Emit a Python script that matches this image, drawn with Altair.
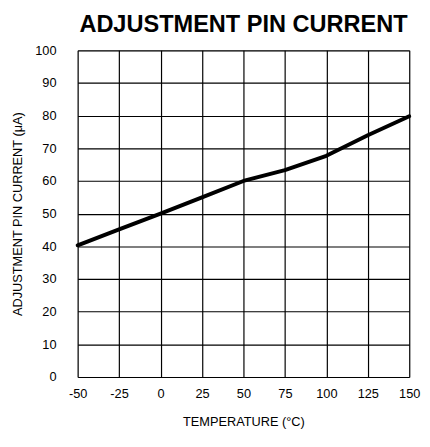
import altair as alt
import pandas as pd

temperature = [-50, -25, 0, 25, 50, 75, 100, 125, 150]
current_ua = [40.3, 45.2, 50.0, 55.0, 60.0, 63.3, 67.7, 74.0, 79.8]

x_ticks = [-50, -25, 0, 25, 50, 75, 100, 125, 150]
y_ticks = [0, 10, 20, 30, 40, 50, 60, 70, 80, 90, 100]

FONT = "Liberation Sans, Arial, sans-serif"

df = pd.DataFrame({"t": temperature, "i": current_ua})

common_axis = dict(
    ticks=False,
    domain=False,
    grid=True,
    gridColor="black",
    gridWidth=1.2,
    gridOpacity=1,
    labelFontSize=13,
    titleFontSize=13,
    titleFontWeight="normal",
    labelFont=FONT,
    titleFont=FONT,
    labelColor="black",
    titleColor="black",
    labelFlush=False,
    labelExpr="'' + datum.value",
)

chart = (
    alt.Chart(df)
    .mark_line(color="black", strokeWidth=4, strokeCap="round", strokeJoin="round")
    .encode(
        x=alt.X(
            "t:Q",
            scale=alt.Scale(domain=[-50, 150], nice=False, zero=False),
            axis=alt.Axis(
                values=x_ticks,
                title="TEMPERATURE (°C)",
                labelPadding=11,
                titlePadding=15,
                **common_axis,
            ),
        ),
        y=alt.Y(
            "i:Q",
            scale=alt.Scale(domain=[0, 100], nice=False, zero=False),
            axis=alt.Axis(
                values=y_ticks,
                title="ADJUSTMENT PIN CURRENT (μA)",
                labelPadding=22,
                titlePadding=11,
                **common_axis,
            ),
        ),
    )
    .properties(
        width=338,
        height=333,
        autosize=alt.AutoSizeParams(type="none"),
        padding={"left": 71, "top": 39, "right": 13, "bottom": 54},
        title=alt.TitleParams(
            "ADJUSTMENT PIN CURRENT",
            font=FONT,
            fontSize=24,
            fontWeight="bold",
            color="black",
            anchor="middle",
            frame="group",
            offset=8,
        ),
    )
    .configure_view(stroke="black", strokeWidth=2.5)
    .configure(background="white")
)

chart.save("out.html", embed_options={"renderer": "svg", "actions": False})
